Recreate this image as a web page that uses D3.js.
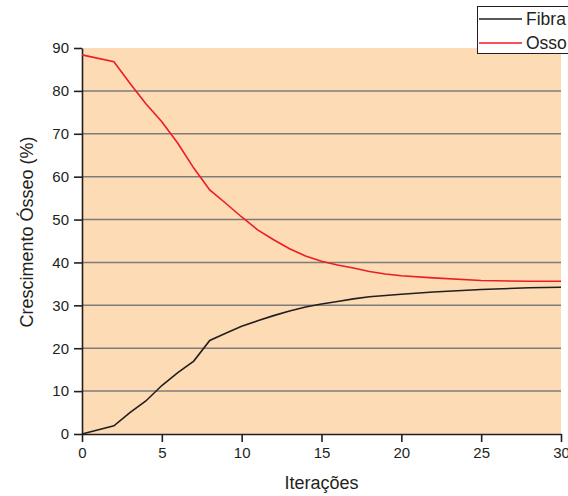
<!DOCTYPE html>
<html>
<head>
<meta charset="utf-8">
<script src="https://cdn.jsdelivr.net/npm/d3@7"></script>
<style>
  html, body { margin: 0; padding: 0; background: #fff; }
  svg { display: block; font-family: "Liberation Sans", Arial, Helvetica, sans-serif; }
</style>
</head>
<body>
<svg id="chart" width="568" height="496"></svg>
<script>
// ---- data ----
const iterations = [0, 2, 3, 4, 5, 6, 7, 8, 9, 10, 11, 12, 13, 14, 15, 16, 17, 18, 19, 20, 22, 25, 28, 30];
const fibra = [0, 1.9, 5, 7.7, 11.3, 14.3, 17, 21.8, 23.5, 25.1, 26.4, 27.6, 28.7, 29.6, 30.3, 30.9, 31.5, 32, 32.3, 32.6, 33.1, 33.7, 34.1, 34.2];
const osso = [88.4, 86.8, 81.8, 77, 72.8, 67.8, 62, 56.9, 53.8, 50.6, 47.6, 45.3, 43.2, 41.5, 40.3, 39.4, 38.7, 37.9, 37.3, 36.9, 36.4, 35.8, 35.6, 35.6];
const xTicks = [0, 5, 10, 15, 20, 25, 30];
const yTicks = [0, 10, 20, 30, 40, 50, 60, 70, 80, 90];
const seriesNames = ["Fibra", "Osso"];
const xTitle = "Iterações";
const yTitle = "Crescimento Ósseo (%)";

// ---- layout ----
const pL = 82, pR = 561, pT = 48, pB = 434;
const svg = d3.select("#chart");
const x = d3.scaleLinear().domain([0, 30]).range([pL, pR]);
const y = d3.scaleLinear().domain([0, 90]).range([pB, pT]);
const ink = "#231f20";

// background
svg.append("rect")
  .attr("x", pL).attr("y", pT)
  .attr("width", pR - pL).attr("height", pB - pT)
  .attr("fill", "#fddbb4");

// gridlines
svg.append("g")
  .selectAll("line")
  .data(yTicks.filter(d => d > 0 && d < 90))
  .join("line")
  .attr("x1", pL).attr("x2", pR)
  .attr("y1", d => y(d)).attr("y2", d => y(d))
  .attr("stroke", "#7c7c7c").attr("stroke-width", 1.5);

// axes
const yAxis = svg.append("g")
  .attr("transform", `translate(${pL},0)`)
  .call(d3.axisLeft(y).tickValues(yTicks).tickSize(8).tickPadding(5).tickSizeOuter(0));
const xAxis = svg.append("g")
  .attr("transform", `translate(0,${pB})`)
  .call(d3.axisBottom(x).tickValues(xTicks).tickSize(8).tickPadding(5).tickSizeOuter(0));
[xAxis, yAxis].forEach(g => {
  g.select(".domain").attr("stroke", ink).attr("stroke-width", 1.6);
  g.selectAll(".tick line").attr("stroke", ink).attr("stroke-width", 1.6);
  g.selectAll(".tick text").attr("fill", ink).attr("font-size", 15)
    .attr("font-family", "'Liberation Sans', Arial, Helvetica, sans-serif");
});

// lines
const pts = vals => iterations.map((it, i) => [it, vals[i]]);
const line = d3.line().x(d => x(d[0])).y(d => y(d[1]));
svg.append("path").datum(pts(fibra))
  .attr("d", line).attr("fill", "none")
  .attr("stroke", ink).attr("stroke-width", 1.6);
svg.append("path").datum(pts(osso))
  .attr("d", line).attr("fill", "none")
  .attr("stroke", "#ed1c24").attr("stroke-width", 1.6);

// axis titles
svg.append("text")
  .attr("x", (pL + pR) / 2).attr("y", 489)
  .attr("text-anchor", "middle").attr("font-size", 18).attr("fill", ink)
  .text(xTitle);
svg.append("text")
  .attr("transform", "translate(33,232) rotate(-90)")
  .attr("text-anchor", "middle").attr("font-size", 18).attr("fill", ink)
  .text(yTitle);

// legend
const lg = svg.append("g");
lg.append("rect")
  .attr("x", 477.5).attr("y", 6.5).attr("width", 100).attr("height", 47)
  .attr("fill", "#fff").attr("stroke", ink).attr("stroke-width", 1);
const legendColors = [ink, "#ed1c24"];
seriesNames.forEach((name, i) => {
  const cy = 19 + i * 24;
  lg.append("line")
    .attr("x1", 479).attr("x2", 522).attr("y1", cy).attr("y2", cy)
    .attr("stroke", legendColors[i]).attr("stroke-width", 1.6);
  lg.append("text")
    .attr("x", 526).attr("y", cy + 6)
    .attr("font-size", 17.5).attr("fill", ink)
    .text(name);
});
</script>
</body>
</html>
